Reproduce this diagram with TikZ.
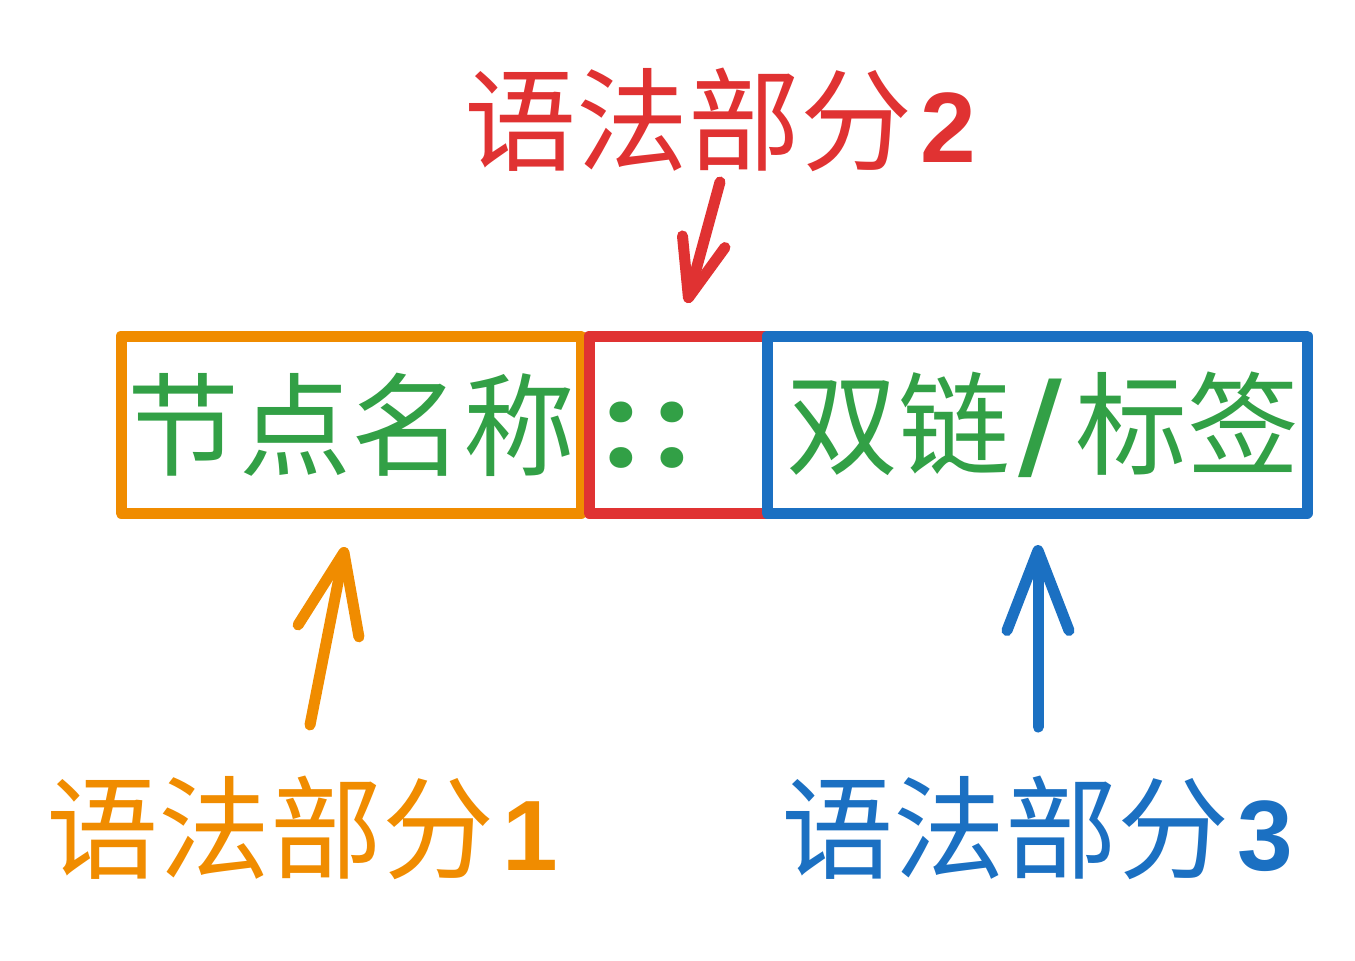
\documentclass[tikz,border=0pt]{standalone}
\usepackage{fontspec}
\newfontfamily\cjk{Noto Sans CJK SC}
\newfontfamily\latn{Liberation Sans}
\newfontfamily\dotfont{Poppins}
\newfontfamily\slashfont{DejaVu Sans}
\usetikzlibrary{arrows.meta}
\definecolor{partorange}{HTML}{F08C00}
\definecolor{partred}{HTML}{E03232}
\definecolor{partblue}{HTML}{1B70C2}
\definecolor{textgreen}{HTML}{32A046}
\def\hanzi{\cjk\fontsize{56pt}{60pt}\selectfont}
\def\partnum#1{\hspace{4pt}{\latn\bfseries\fontsize{50pt}{52pt}\selectfont #1}}

\begin{document}
\begin{tikzpicture}[x=0.5pt, y=-0.5pt, line width=5.5pt, line cap=round, line join=round]
    \tikzstyle{partbox}=[draw, rectangle, inner sep=0pt, minimum height=88.5pt, text=textgreen, font=\hanzi]
    \tikzstyle{part label}=[inner sep=0pt, font=\hanzi]
    \tikzstyle{pointer}=[-{Straight Barb[length=40pt, width=31pt, round]}]
    \tikzstyle{small pointer}=[-{Straight Barb[length=29pt, width=22pt, round]}]

    \useasboundingbox (0,0) rectangle (1355,960);

    % the three parts of the line
    \node[partbox, draw=partorange, minimum width=230pt] (name) at (351,424.5) {节点名称};
    \node[partbox, draw=partred, minimum width=89pt] (sep) at (678,424.5) {};
    \node[partbox, draw=partblue, minimum width=270pt] (tag) at (1037,424.5) {\hspace*{6pt}双链\hspace{4pt}{\slashfont\bfseries\fontsize{60pt}{62pt}\selectfont /}\hspace{7pt}标签};
    \node[text=textgreen, inner sep=0pt, font=\dotfont\bfseries\fontsize{56pt}{60pt}\selectfont] (colons) at (647,435) {:\kern10pt:};

    \node[part label, text=partred] (label2) at (720,120) {语法部分\partnum{2}};
    \node[part label, text=partorange] (label1) at (302,828) {语法部分\partnum{1}};
    \node[part label, text=partblue] (label3) at (1037,828) {语法部分\partnum{3}};

    \coordinate (from1) at (310,725);
    \coordinate (to1) at (345,547);
    \coordinate (from2) at (720,182);
    \coordinate (to2) at (687,303);
    \coordinate (from3) at (1038,727);
    \coordinate (to3) at (1038,545);

    \draw[pointer, partorange] (from1) -- (to1);
    \draw[small pointer, partred] (from2) -- (to2);
    \draw[pointer, partblue] (from3) -- (to3);
\end{tikzpicture}
\end{document}
